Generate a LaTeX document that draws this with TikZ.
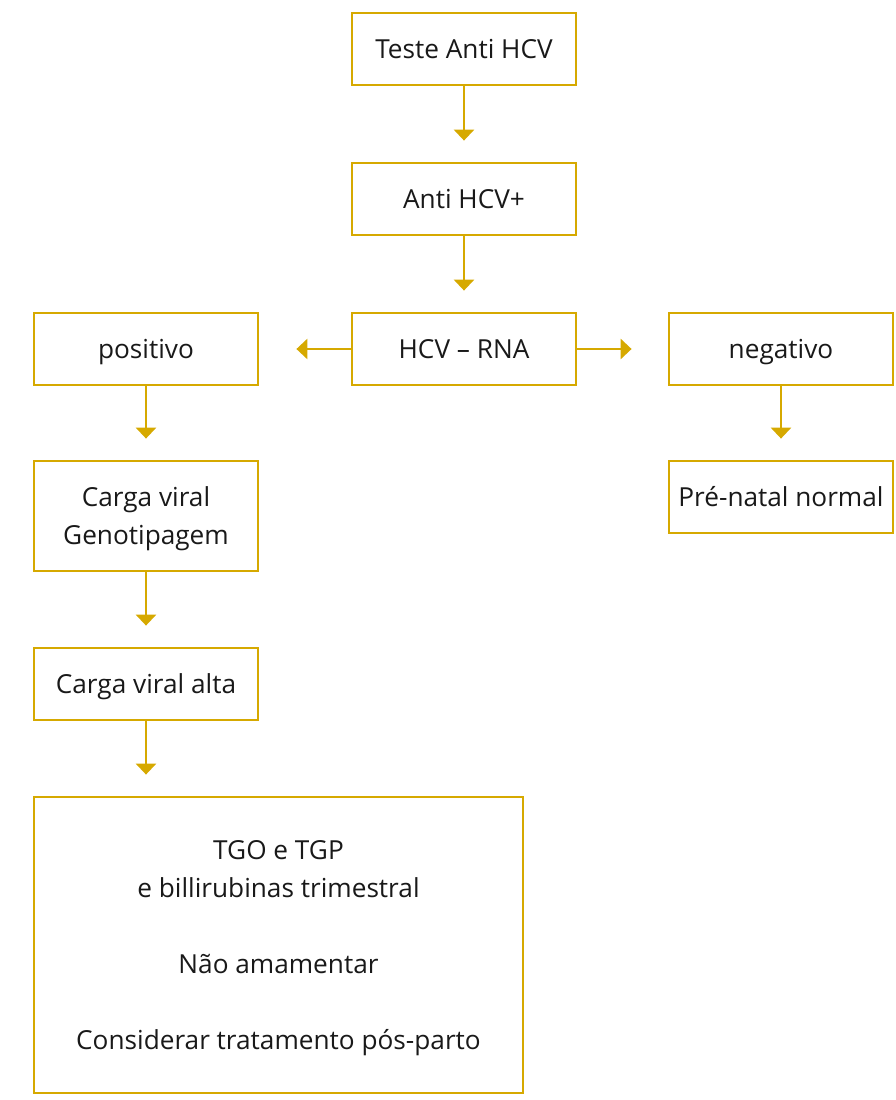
\documentclass[tikz,border=0pt]{standalone}
\usepackage{fontspec}
\setmainfont{Open Sans}
\usetikzlibrary{arrows.meta}
\definecolor{gold}{RGB}{214,169,0}
\begin{document}
\begin{tikzpicture}[x=1pt,y=-1pt,
  box/.style={draw=gold,line width=2.8pt,rectangle,minimum width=224pt,minimum height=72pt,align=center,font=\fontsize{26.2}{38}\selectfont,text=black!90,inner sep=0pt,text depth=0pt},
  one/.style={text height=18.7pt},
  arr/.style={draw=gold,line width=2.8pt,-{Triangle[width=20pt,length=11pt]}}]
\useasboundingbox (0,0) rectangle (896,1100);
\node[box,one] (b1) at (464,49) {Teste Anti HCV};
\node[box,one] (b2) at (464,199) {Anti HCV+};
\node[box,one] (b3) at (464,349) {HCV – RNA};
\node[box,one] (pos) at (146,349) {positivo};
\node[box,one] (neg) at (781,349) {negativo};
\node[box,minimum height=110pt] (cg) at (146,516) {Carga viral\\Genotipagem};
\node[box,one] (pn) at (781,497) {Pré-natal normal};
\node[box,one] (ca) at (146,684) {Carga viral alta};
\node[box,minimum width=489pt,minimum height=296pt,text depth=-6pt] (big) at (278.5,945) {TGO e TGP\\e billirubinas trimestral\\[38pt]Não amamentar\\[38pt]Considerar tratamento pós-parto};
\draw[arr,shorten >=21pt] (b1) -- (b2);
\draw[arr,shorten >=21pt] (b2) -- (b3);
\draw[arr,shorten >=37pt] (b3) -- (pos);
\draw[arr,shorten >=36pt] (b3) -- (neg);
\draw[arr,shorten >=21pt] (pos) -- (cg);
\draw[arr,shorten >=21pt] (neg) -- (pn);
\draw[arr,shorten >=21pt] (cg) -- (ca);
\draw[arr,shorten >=21pt] (ca.south) -- (ca.south |- big.north);
\end{tikzpicture}
\end{document}
